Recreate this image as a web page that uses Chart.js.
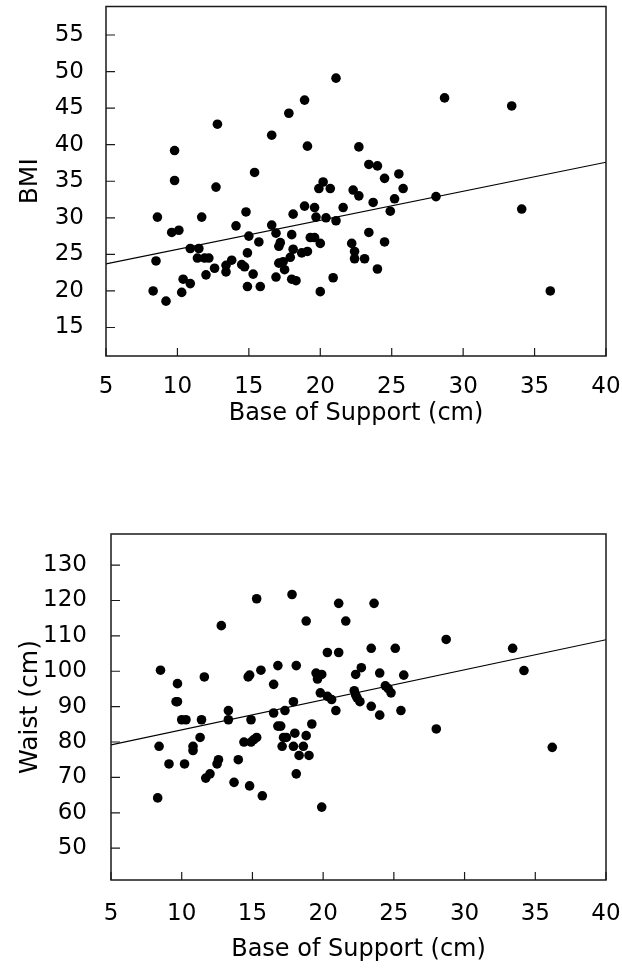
<!DOCTYPE html>
<html>
<head>
<meta charset="utf-8">
<script src="https://cdn.jsdelivr.net/npm/chart.js@4.4.1/dist/chart.umd.min.js"></script>
<style>
html,body{margin:0;padding:0;background:#fff;}
.box{position:absolute;left:0;width:622px;height:484px;}
</style>
</head>
<body>
<div class="box" style="top:0"><canvas id="bmiChart" width="622" height="484"></canvas></div>
<div class="box" style="top:484px"><canvas id="waistChart" width="622" height="484"></canvas></div>
<script>
// base of support (cm) vs BMI
const bmiSupport = [
8.3, 8.5, 8.6, 9.2, 9.6, 10.1, 9.8, 9.8, 10.3, 10.4,
10.9, 10.9, 11.5, 11.4, 11.7, 11.9, 12.2, 12.0, 12.6, 12.7,
12.8, 13.4, 13.4, 13.8, 14.1, 14.5, 14.7, 14.8, 15.0, 14.9,
14.9, 15.3, 15.4, 15.7, 15.8, 16.6, 16.6, 16.9, 16.9, 17.1,
17.2, 17.1, 17.4, 17.5, 17.8, 18.0, 18.1, 18.1, 17.9, 18.0,
18.3, 18.9, 18.9, 19.1, 18.7, 19.1, 19.3, 19.6, 19.6, 19.7,
20.0, 20.0, 19.9, 20.2, 20.7, 20.4, 21.1, 21.1, 20.9, 21.6,
22.2, 22.3, 22.4, 22.4, 22.7, 22.7, 23.1, 23.4, 23.4, 23.7,
24.0, 24.0, 24.5, 24.5, 24.9, 25.2, 25.5, 25.8, 28.1, 28.7,
33.4, 34.1, 36.1];
const bmiValues = [
20.0, 24.1, 30.1, 18.6, 28.0, 28.3, 39.2, 35.1, 19.8, 21.6,
21.0, 25.8, 25.8, 24.5, 30.1, 24.5, 24.5, 22.2, 23.1, 34.2,
42.8, 23.5, 22.6, 24.2, 28.9, 23.6, 23.3, 30.8, 27.5, 25.2,
20.6, 22.3, 36.2, 26.7, 20.6, 41.3, 29.0, 27.9, 21.9, 26.1,
26.6, 23.8, 24.0, 22.9, 44.3, 27.7, 30.5, 25.7, 24.6, 21.6,
21.4, 46.1, 31.6, 39.8, 25.2, 25.4, 27.3, 27.3, 31.4, 30.1,
26.5, 19.9, 34.0, 34.9, 34.0, 30.0, 49.1, 29.6, 21.8, 31.4,
26.5, 33.8, 25.4, 24.4, 33.0, 39.7, 24.4, 37.3, 28.0, 32.1,
23.0, 37.1, 26.7, 35.4, 30.9, 32.6, 36.0, 34.0, 32.9, 46.4,
45.3, 31.2, 20.0];
const bmiFitX = [5, 40];
const bmiFitY = [23.7, 37.6];
const bmiTicks = [15, 20, 25, 30, 35, 40, 45, 50, 55];

// base of support (cm) vs waist (cm)
const waistSupport = [
8.3, 8.4, 8.5, 9.1, 9.6, 9.7, 9.7, 10.0, 10.3, 10.2,
10.8, 10.8, 11.3, 11.4, 11.6, 11.7, 12.0, 12.5, 12.6, 12.8,
13.3, 13.3, 13.7, 14.0, 14.4, 14.7, 14.8, 14.8, 14.9, 14.9,
15.1, 15.3, 15.3, 15.6, 15.7, 16.5, 16.5, 16.8, 16.8, 17.0,
17.1, 17.2, 17.4, 17.3, 17.8, 17.9, 17.9, 18.0, 18.1, 18.1,
18.3, 18.6, 18.8, 18.8, 19.0, 19.2, 19.5, 19.6, 19.8, 19.9,
19.9, 20.3, 20.3, 20.6, 20.9, 21.1, 21.1, 21.6, 22.2, 22.3,
22.3, 22.4, 22.6, 22.7, 23.4, 23.4, 23.6, 24.0, 24.0, 24.4,
24.6, 24.8, 25.1, 25.5, 25.7, 28.0, 28.7, 33.4, 34.2, 36.2];
const waistValues = [
64.2, 78.8, 100.3, 73.8, 91.4, 91.4, 96.5, 86.3, 86.3, 73.8,
78.8, 77.6, 81.3, 86.3, 98.4, 69.8, 71.0, 73.8, 75.0, 112.9,
86.3, 88.9, 68.6, 75.0, 80.0, 98.4, 98.9, 67.6, 86.3, 80.0,
80.7, 81.3, 120.5, 100.3, 64.8, 96.3, 88.2, 101.6, 84.5, 84.5,
78.8, 81.3, 81.3, 88.9, 121.7, 91.4, 78.8, 82.5, 101.6, 71.0,
76.2, 78.8, 81.8, 114.2, 76.2, 85.1, 99.5, 97.8, 93.9, 99.1,
61.6, 92.9, 105.3, 92.0, 88.9, 105.3, 119.2, 114.2, 94.5, 93.3,
99.1, 92.5, 91.4, 101.0, 90.1, 106.5, 119.2, 87.6, 99.5, 95.9,
95.1, 93.9, 106.5, 88.9, 98.9, 83.7, 109.0, 106.5, 100.2, 78.5];
const waistFitX = [5, 40];
const waistFitY = [79.2, 108.9];
const waistTicks = [50, 60, 70, 80, 90, 100, 110, 120, 130];

const supportTicks = [5, 10, 15, 20, 25, 30, 35, 40];

const FONT = "'DejaVu Sans', sans-serif";

/* box round the plot + short ticks pointing inwards */
const frame = {
  id: 'frame',
  afterDraw(chart) {
    const {ctx, chartArea: a, scales} = chart;
    ctx.save();
    ctx.strokeStyle = '#1a1a1a';
    ctx.lineWidth = 1.5;
    ctx.strokeRect(a.left, a.top, a.right - a.left, a.bottom - a.top);
    ctx.lineWidth = 1.2;
    ctx.beginPath();
    scales.x.ticks.forEach(t => {
      const px = scales.x.getPixelForValue(t.value);
      ctx.moveTo(px, a.bottom);
      ctx.lineTo(px, a.bottom - 8);
    });
    scales.y.ticks.forEach(t => {
      const py = scales.y.getPixelForValue(t.value);
      ctx.moveTo(a.left, py);
      ctx.lineTo(a.left + 9, py);
    });
    ctx.stroke();
    ctx.restore();
  }
};

function zip(xs, ys) {
  return xs.map((x, i) => ({x: x, y: ys[i]}));
}

function makeChart(id, o) {
  new Chart(document.getElementById(id), {
    type: 'scatter',
    data: {
      datasets: [{
        data: zip(o.xs, o.ys),
        backgroundColor: '#000',
        borderWidth: 0,
        pointRadius: 4.8
      }, {
        type: 'line',
        data: zip(o.fitX, o.fitY),
        borderColor: '#000',
        borderWidth: 1.1,
        pointRadius: 0,
        fill: false
      }]
    },
    options: {
      responsive: false,
      animation: false,
      events: [],
      layout: {padding: {top: o.padTop, right: 16, bottom: 0, left: 0}},
      plugins: {legend: {display: false}, tooltip: {enabled: false}},
      scales: {
        x: {
          type: 'linear', min: 5, max: 40,
          grid: {display: false},
          border: {display: false},
          afterBuildTicks: s => { s.ticks = supportTicks.map(v => ({value: v})); },
          afterFit: s => { s.height = o.xHeight; s.paddingLeft = 0; s.paddingRight = 0; },
          ticks: {color: '#000', font: {family: FONT, size: 23}, padding: o.xTickPad, maxRotation: 0, autoSkip: false},
          title: {display: true, text: 'Base of Support (cm)', color: '#000',
                  font: {family: FONT, size: 24}, padding: {top: 0, bottom: o.xTitlePad}}
        },
        y: {
          type: 'linear', min: o.yMin, max: o.yMax,
          grid: {display: false},
          border: {display: false},
          afterBuildTicks: s => { s.ticks = o.yTicks.map(v => ({value: v})); },
          afterFit: s => { s.width = o.yWidth; s.paddingTop = 0; s.paddingBottom = 0; },
          ticks: {color: '#000', font: {family: FONT, size: 23}, padding: o.yTickPad},
          title: {display: true, text: o.yTitle, color: '#000',
                  font: {family: FONT, size: 25}, padding: {top: 15, bottom: 0}}
        }
      }
    },
    plugins: [frame]
  });
}

makeChart('bmiChart', {
  xs: bmiSupport, ys: bmiValues, fitX: bmiFitX, fitY: bmiFitY,
  yTicks: bmiTicks, yMin: 11.1, yMax: 58.9, yTitle: 'BMI',
  padTop: 6.5, yWidth: 106, xHeight: 128, xTitlePad: 56,
  xTickPad: 9, yTickPad: 14
});

makeChart('waistChart', {
  xs: waistSupport, ys: waistValues, fitX: waistFitX, fitY: waistFitY,
  yTicks: waistTicks, yMin: 41, yMax: 138.8, yTitle: 'Waist (cm)',
  padTop: 50, yWidth: 111, xHeight: 88, xTitlePad: 4,
  xTickPad: 12, yTickPad: 16
});
</script>
</body>
</html>
